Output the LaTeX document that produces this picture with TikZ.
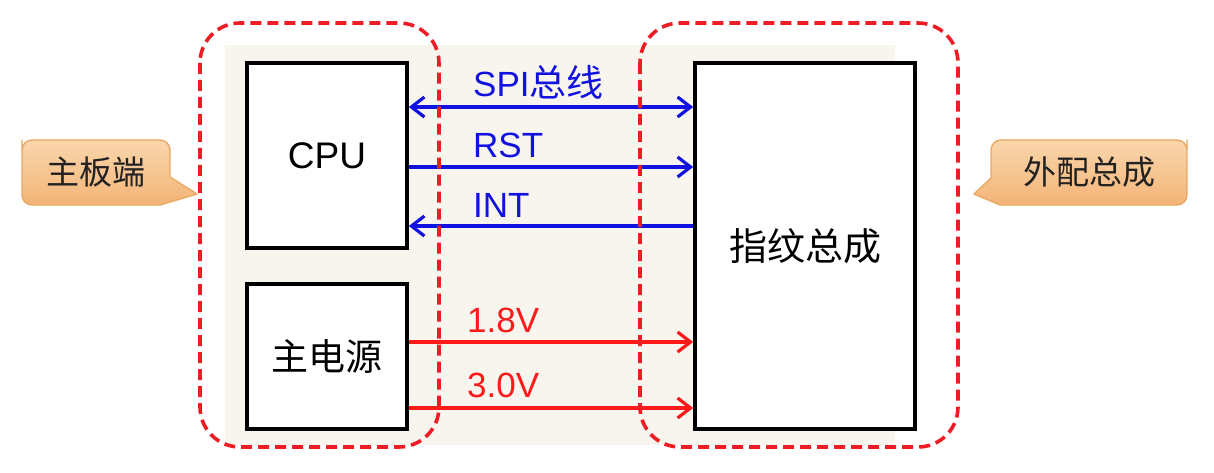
\documentclass[tikz,border=0pt]{standalone}
\usepackage{fontspec}
\setmainfont{Liberation Sans}
\newfontfamily\cjk{Noto Sans CJK SC}
\usetikzlibrary{arrows.meta}
\definecolor{beige}{HTML}{F8F5EE}
\definecolor{dashred}{HTML}{EE1C24}
\definecolor{sigblue}{HTML}{1212E0}
\definecolor{sigred}{HTML}{FF1A1A}
\definecolor{calltop}{HTML}{FAD6AC}
\definecolor{callbot}{HTML}{F3B477}
\definecolor{callline}{HTML}{EBA865}
\definecolor{txtgray}{HTML}{222222}
\tikzset{
  blockbox/.style={draw=black, line width=3.6pt, fill=white, inner sep=0pt, text=black},
  groupbox/.style={draw=dashred, line width=3.6pt, dash pattern=on 11pt off 6pt, rounded corners=40pt},
  calloutshape/.style={top color=calltop, bottom color=callbot, draw=callline, line width=1.4pt, line join=round},
  calltext/.style={text=txtgray, font=\fontsize{33}{36}\selectfont\cjk, inner sep=0pt},
  siglabel/.style={anchor=base west, inner sep=0pt, font=\fontsize{35}{38}\selectfont},
  tipstyle/.style={},
  bluesig/.style={draw=sigblue, line width=3.2pt, -{Straight Barb[length=13pt,width=20pt,line width=3.2pt]}},
  bluesigboth/.style={draw=sigblue, line width=3.2pt, {Straight Barb[length=13pt,width=20pt,line width=3.2pt]}-{Straight Barb[length=13pt,width=20pt,line width=3.2pt]}},
  redsig/.style={draw=sigred, line width=3.2pt, -{Straight Barb[length=13pt,width=20pt,line width=3.2pt]}},
}
\begin{document}
\begin{tikzpicture}[x=1pt, y=-1pt]
\useasboundingbox[fill=white] (0,0) rectangle (1214,473);
% beige panel
\fill[beige] (225,45) rectangle (895,445);

% blocks
\node[blockbox, minimum width=160pt, minimum height=185pt, font=\fontsize{37}{40}\selectfont] (cpu) at (327,155.5) {CPU};
\node[blockbox, minimum width=160pt, minimum height=145pt, font=\fontsize{37}{40}\selectfont\cjk] (psu) at (327,356.5) {主电源};
\node[blockbox, minimum width=220pt, minimum height=366pt, font=\fontsize{38}{40}\selectfont\cjk] (fp) at (805,246) {指纹总成};

% signals
\draw[bluesigboth] (cpu.east |- 0,107) -- (fp.west |- 0,107);
\draw[bluesig] (cpu.east |- 0,167) -- (fp.west |- 0,167);
\draw[bluesig] (fp.west |- 0,226) -- (cpu.east |- 0,226);
\draw[redsig] (psu.east |- 0,342) -- (fp.west |- 0,342);
\draw[redsig] (psu.east |- 0,408) -- (fp.west |- 0,408);

\node[siglabel, text=sigblue] (lspi) at (473,97) {SPI{\fontsize{37}{38}\selectfont\cjk 总线}};
\node[siglabel, text=sigblue] (lrst) at (473,158) {RST};
\node[siglabel, text=sigblue] (lint) at (473,217) {INT};
\node[siglabel, text=sigred] (l18) at (467,332) {1.8V};
\node[siglabel, text=sigred] (l30) at (467,397) {3.0V};

% dashed group outlines
\draw[groupbox] (200,23) rectangle (439,447);
\draw[groupbox] (640,23) rectangle (958,447);

% callouts
\path[calloutshape] (22,150) [rounded corners=10pt] -- (22,140) -- (170,140) -- (170,160) [sharp corners] -- (170,177) -- (197,194) -- (160,205) [rounded corners=10pt] -- (22,205) -- cycle;
\node[calltext] (mb) at (96,172) {主板端};

\path[calloutshape] (1187,150) [rounded corners=10pt] -- (1187,140) -- (991,140) -- (991,160) [sharp corners] -- (991,178) -- (974,194) -- (1000,205) [rounded corners=10pt] -- (1187,205) -- cycle;
\node[calltext] (ext) at (1089,172) {外配总成};
\end{tikzpicture}
\end{document}
